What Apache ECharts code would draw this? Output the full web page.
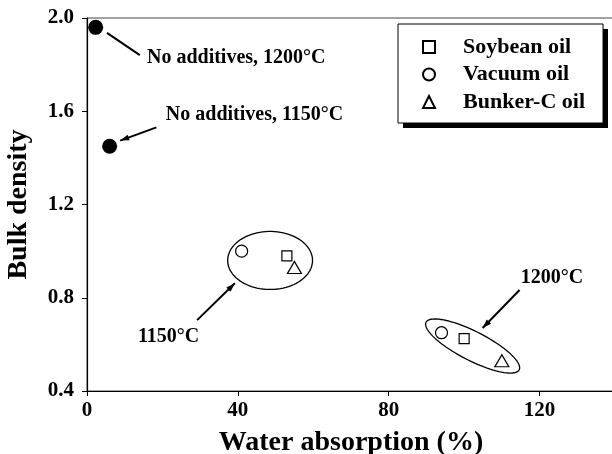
<!DOCTYPE html>
<html>
<head>
<meta charset="utf-8">
<script src="https://cdn.jsdelivr.net/npm/echarts@6/dist/echarts.min.js"></script>
<style>
html,body{margin:0;padding:0;background:#fff;}
#chart{width:612px;height:454px;}
</style>
</head>
<body>
<div id="chart"></div>
<script>
// ---- data ----
const seriesNames = ['Soybean oil', 'Vacuum oil', 'Bunker-C oil'];
const soybeanX = [53, 100];
const soybeanY = [0.98, 0.625];
const vacuumX = [41, 94];
const vacuumY = [1.0, 0.65];
const bunkerX = [55, 110];
const bunkerY = [0.93, 0.53];
const noAddX = [2.3, 6];
const noAddY = [1.96, 1.45];

const xTicks = [0, 40, 80, 120];
const yTicks = [0.4, 0.8, 1.2, 1.6, 2.0];

// annotations (data coordinates)
const annoTexts = ['No additives, 1200°C', 'No additives, 1150°C', '1150°C', '1200°C'];
const annoX = [15.9, 20.9, 13.5, 115];
const annoY = [1.828, 1.584, 0.632, 0.885];

const arrowFromX = [14.0, 18.4, 29.2, 114.7];
const arrowFromY = [1.841, 1.531, 0.704, 0.833];
const arrowToX = [5.3, 8.8, 39.2, 104.9];
const arrowToY = [1.936, 1.474, 0.862, 0.670];
const arrowHead = [0, 1, 1, 1];

// ellipse major-axis end points
const ellipseX1 = [37.3, 89.9];
const ellipseY1 = [0.96, 0.695];
const ellipseX2 = [59.8, 114.6];
const ellipseY2 = [0.96, 0.491];

// ---- styles ----
const FONT = '"Liberation Serif", "Times New Roman", serif';
const ellipseMinorPx = [29, 14.5];

const zip = (xs, ys) => xs.map((x, i) => [x, ys[i]]);

const chart = echarts.init(document.getElementById('chart'), null, {renderer: 'canvas'});

const hollow = {color: '#fff', borderColor: '#000', borderWidth: 1.2, opacity: 1};

const option = {
  animation: false,
  backgroundColor: '#fff',
  grid: {left: 87, top: 18, width: 528, height: 373, outerBoundsMode: 'none', containLabel: false,
         show: true, borderColor: '#444', borderWidth: 1, backgroundColor: 'transparent'},
  graphic: [{
    type: 'rect', z: 0, silent: true,
    shape: {x: 403, y: 29, width: 205, height: 99},
    style: {fill: '#000'}
  }],
  xAxis: {
    type: 'value', min: 0, max: 140, interval: 40,
    name: 'Water absorption (%)', nameLocation: 'middle', nameGap: 38,
    nameTextStyle: {fontFamily: FONT, fontWeight: 'bold', fontSize: 28, color: '#000'},
    axisLine: {show: true, lineStyle: {color: '#000', width: 1.2}},
    axisTick: {show: true, length: 5, lineStyle: {color: '#000'}},
    axisLabel: {
      fontFamily: FONT, fontWeight: 'bold', fontSize: 21, color: '#000', margin: 9,
      showMaxLabel: false,
      formatter: v => xTicks.includes(v) ? String(v) : ''
    },
    splitLine: {show: false}
  },
  yAxis: {
    type: 'value', min: 0.4, max: 2.0, interval: 0.4,
    name: 'Bulk density', nameLocation: 'middle', nameGap: 54,
    nameTextStyle: {fontFamily: FONT, fontWeight: 'bold', fontSize: 28, color: '#000'},
    axisLine: {show: true, lineStyle: {color: '#000', width: 1.2}},
    axisTick: {show: true, length: 5, lineStyle: {color: '#000'}},
    axisLabel: {
      fontFamily: FONT, fontWeight: 'bold', fontSize: 21, color: '#000', margin: 13,
      formatter: v => {
        const t = yTicks.find(k => Math.abs(k - v) < 1e-6);
        return t === undefined ? '' : t.toFixed(1);
      }
    },
    splitLine: {show: false}
  },
  legend: {
    data: seriesNames,
    orient: 'vertical',
    left: 398, top: 24, z: 6,
    padding: [12, 18, 10, 24],
    itemWidth: 12, itemHeight: 12, itemGap: 5.5,
    backgroundColor: '#fff',
    borderColor: '#000', borderWidth: 1,
    selectedMode: false,
    textStyle: {fontFamily: FONT, fontWeight: 'bold', fontSize: 22, color: '#000', padding: [0, 0, 0, 23]}
  },
  series: [
    {
      name: 'Soybean oil', type: 'scatter', symbol: 'rect', symbolSize: 10,
      itemStyle: hollow, data: zip(soybeanX, soybeanY), z: 5
    },
    {
      name: 'Vacuum oil', type: 'scatter', symbol: 'circle', symbolSize: 12,
      itemStyle: hollow, data: zip(vacuumX, vacuumY), z: 5
    },
    {
      name: 'Bunker-C oil', type: 'scatter', symbol: 'triangle', symbolSize: [14, 12],
      itemStyle: hollow, data: zip(bunkerX, bunkerY), z: 5
    },
    {
      name: 'No additives', type: 'scatter', symbol: 'circle', symbolSize: 15,
      itemStyle: {color: '#000', opacity: 1}, data: zip(noAddX, noAddY), z: 5
    },
    {
      name: 'ellipses', type: 'custom', silent: true, clip: false, z: 3,
      encode: {x: [0, 2], y: [1, 3]},
      data: ellipseX1.map((x, i) => [x, ellipseY1[i], ellipseX2[i], ellipseY2[i]]),
      renderItem: (params, api) => {
        const p1 = api.coord([api.value(0), api.value(1)]);
        const p2 = api.coord([api.value(2), api.value(3)]);
        const cx = (p1[0] + p2[0]) / 2, cy = (p1[1] + p2[1]) / 2;
        const a = Math.hypot(p2[0] - p1[0], p2[1] - p1[1]) / 2;
        const b = ellipseMinorPx[params.dataIndex];
        const th = Math.atan2(p2[1] - p1[1], p2[0] - p1[0]);
        const pts = [];
        for (let k = 0; k < 90; k++) {
          const t = k / 90 * Math.PI * 2;
          const ex = a * Math.cos(t), ey = b * Math.sin(t);
          pts.push([cx + ex * Math.cos(th) - ey * Math.sin(th), cy + ex * Math.sin(th) + ey * Math.cos(th)]);
        }
        return {type: 'polygon', shape: {points: pts}, style: {fill: 'none', stroke: '#000', lineWidth: 1.3}};
      }
    },
    {
      name: 'arrows', type: 'custom', silent: true, clip: false, z: 4,
      encode: {x: [0, 2], y: [1, 3]},
      data: arrowFromX.map((x, i) => [x, arrowFromY[i], arrowToX[i], arrowToY[i], arrowHead[i]]),
      renderItem: (params, api) => {
        const p1 = api.coord([api.value(0), api.value(1)]);
        const p2 = api.coord([api.value(2), api.value(3)]);
        const children = [{
          type: 'line', shape: {x1: p1[0], y1: p1[1], x2: p2[0], y2: p2[1]},
          style: {stroke: '#000', lineWidth: 2}
        }];
        if (api.value(4)) {
          const th = Math.atan2(p2[1] - p1[1], p2[0] - p1[0]);
          const L = 9, W = 3;
          const bx = p2[0] - L * Math.cos(th), by = p2[1] - L * Math.sin(th);
          children.push({
            type: 'polygon',
            shape: {points: [
              [p2[0], p2[1]],
              [bx - W * Math.sin(th), by + W * Math.cos(th)],
              [bx + W * Math.sin(th), by - W * Math.cos(th)]
            ]},
            style: {fill: '#000'}
          });
        }
        return {type: 'group', children};
      }
    },
    {
      name: 'labels', type: 'custom', silent: true, clip: false, z: 4,
      encode: {x: 0, y: 1},
      data: zip(annoX, annoY),
      renderItem: (params, api) => {
        const p = api.coord([api.value(0), api.value(1)]);
        return {
          type: 'text', x: p[0], y: p[1],
          style: {
            text: annoTexts[params.dataIndex],
            fontFamily: FONT, fontWeight: 'bold', fontSize: 20,
            fill: '#000', align: 'left', verticalAlign: 'middle'
          }
        };
      }
    }
  ]
};

chart.setOption(option);
</script>
</body>
</html>
